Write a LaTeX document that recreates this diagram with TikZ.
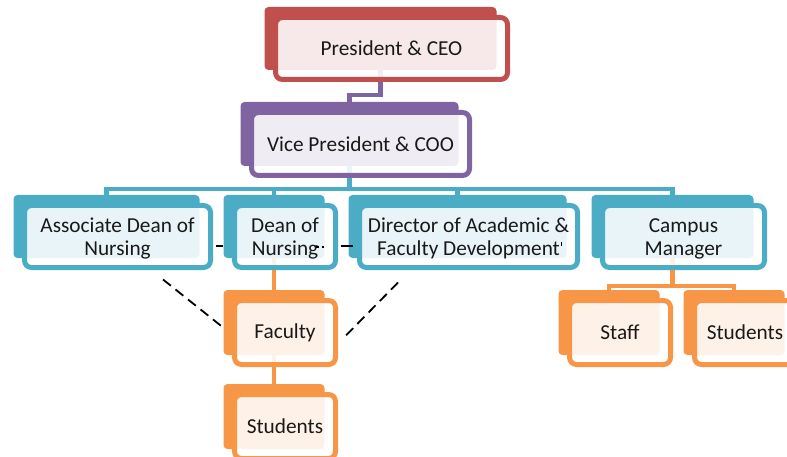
\documentclass[tikz,border=0pt]{standalone}
\usepackage{fontspec}
\setmainfont{Carlito}
\usetikzlibrary{calc,backgrounds}

\definecolor{ceoRed}{HTML}{C0504D}
\definecolor{vpPurple}{HTML}{8064A2}
\definecolor{deptBlue}{HTML}{4BACC6}
\definecolor{staffOrange}{HTML}{F79646}

% two centred lines, set a little below the frame's middle
\newcommand\pairlines[2]{\raisebox{-3pt}[\height][\depth]{\begin{tabular}{@{}c@{}}#1\\#2\end{tabular}}}

\begin{document}
\begin{tikzpicture}[x=1pt,y=-1pt,
  box/.style={draw=#1, line width=5pt, rounded corners=7pt, fill=white,
    fill opacity=0.88, text opacity=1, text=black!90, align=center,
    inner sep=0pt, font=\fontsize{21.3}{23}\selectfont},
  back/.style={fill=#1, rounded corners=4pt},
  link/.style={draw=#1, line width=4.5pt},
  dashlink/.style={draw=black, line width=1.8pt, dash pattern=on 10pt off 6pt},
  tie/.style={draw=black, line width=1.6pt}]
\useasboundingbox (0,0) rectangle (787,457);
\clip (0,0) rectangle (787,457);

% framed boxes (translucent white over a solid colour block)
\node[box=ceoRed, minimum width=232pt, minimum height=62pt] (pres) at (391.5,48.5) {President \& CEO};
\node[box=vpPurple, minimum width=218pt, minimum height=63pt] (vp) at (360.5,144) {Vice President \& COO};
\node[box=deptBlue, minimum width=186pt, minimum height=62pt] (assoc) at (117.5,236.5) {\pairlines{Associate Dean of}{Nursing}};
\node[box=deptBlue, minimum width=101pt, minimum height=62pt] (dean) at (285,236.5) {\pairlines{Dean of}{Nursing}};
\node[box=deptBlue, minimum width=218pt, minimum height=62pt] (dir) at (468.5,236.5) {\pairlines{Director of Academic \&}{Faculty Development}};
\node[box=deptBlue, minimum width=162pt, minimum height=62pt] (camp) at (683.5,236.5) {\pairlines{Campus}{Manager}};
\node[box=staffOrange, minimum width=101pt, minimum height=64pt] (fac) at (285,332.5) {Faculty};
\node[box=staffOrange, minimum width=101pt, minimum height=64pt] (stua) at (285,426.5) {Students};
\node[box=staffOrange, minimum width=101pt, minimum height=64pt] (staff) at (620,332.5) {Staff};
\node[box=staffOrange, minimum width=101pt, minimum height=64pt] (stub) at (745,332.5) {Students};

\begin{scope}[on background layer]
  % solid colour blocks behind each frame, plus their attachment points
  \foreach \n/\c in {pres/ceoRed, vp/vpPurple, assoc/deptBlue, dean/deptBlue,
                     dir/deptBlue, camp/deptBlue, fac/staffOrange, stua/staffOrange,
                     staff/staffOrange, stub/staffOrange}{
    \fill[back=\c] ([shift={(-8.5,-8)}]\n.north west) rectangle ([shift={(-13.5,-12)}]\n.south east);
    \coordinate (\n-bt) at ([shift={(-11,-8)}]\n.north);
    \coordinate (\n-bb) at ([shift={(-11,-12)}]\n.south);
  }
  % hierarchy connectors
  \draw[link=vpPurple] (pres-bb) -- ++(0,25) -| (vp-bt);
  \draw[link=deptBlue] (vp-bb) -- ++(0,23) -| (assoc-bt);
  \draw[link=deptBlue] (vp-bb) -- ++(0,23) -| (dean-bt);
  \draw[link=deptBlue] (vp-bb) -- ++(0,23) -| (dir-bt);
  \draw[link=deptBlue] (vp-bb) -- ++(0,23) -| (camp-bt);
  \draw[link=staffOrange] (dean-bb) -- (fac-bt);
  \draw[link=staffOrange] (fac-bb) -- (stua-bt);
  \draw[link=staffOrange] (camp-bb) -- ++(0,28) -| (staff-bt);
  \draw[link=staffOrange] (camp-bb) -- ++(0,28) -| (stub-bt);
\end{scope}

% dotted-line relationships
\draw[dashlink] ($(assoc.south)+(45.5,9.5)$) -- ($(fac.west)+(-9.5,-5.5)$);
\draw[dashlink] ($(dir.south)+(-70.5,12.5)$) -- ($(fac.east)+(5.5,5.5)$);
\draw[tie] ($(assoc.east)+(2.5,9.5)$) -- ($(dean.west)+(-9.5,9.5)$);
\draw[tie] ($(dean.east)+(2.5,9.5)$) -- ($(dir.west)+(-4.5,9.5)$);
\draw[tie, line width=1.1pt] ($(dean.east)+(-22,10.5)$) -- ++(3,0);
\draw[tie, line width=1.1pt] ($(dean.east)+(-16.5,10.5)$) -- ++(2,0);
\draw[tie, line width=0.9pt] ($(dir.east)+(-18.5,5.5)$) -- ++(0,4);
\end{tikzpicture}
\end{document}
